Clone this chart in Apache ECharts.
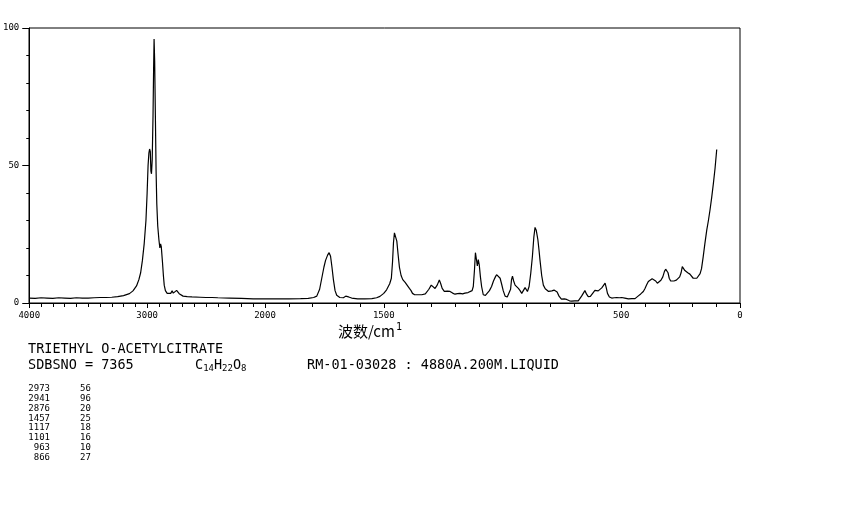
<!DOCTYPE html>
<html>
<head>
<meta charset="utf-8">
<script src="https://cdn.jsdelivr.net/npm/echarts@6/dist/echarts.min.js"></script>
<style>html,body{margin:0;padding:0;background:#fff;}#chart{width:850px;height:510px;}</style>
</head>
<body>
<div id="chart"></div>
<script>
// Wavenumbers (cm-1) and Raman intensities
const wavenumbers = [
4000,3950,3900,3850,3800,3750,3700,3650,3600,3550,3500,3450,3400,3350,3300,3250,3200,3150,3120,3090,
3070,3055,3040,3025,3010,3000,2992,2985,2979,2973,2968,2963,2957,2950,2945,2941,2936,2930,2924,2918,
2910,2900,2892,2886,2880,2876,2870,2862,2855,2845,2830,2815,2800,2788,2778,2765,2750,2740,2728,2715,
2695,2660,2620,2550,2500,2450,2400,2300,2200,2100,2000,1950,1900,1850,1818,1795,1782,1770,1761,1752,
1745,1736,1730,1724,1718,1712,1705,1698,1685,1670,1660,1655,1648,1635,1610,1580,1550,1530,1516,1500,
1488,1475,1468,1463,1459,1455,1450,1445,1440,1434,1427,1420,1410,1403,1392,1385,1379,1370,1355,1340,
1325,1318,1310,1300,1292,1284,1275,1266,1260,1254,1245,1232,1221,1210,1200,1190,1179,1168,1158,1145,
1137,1128,1123,1118,1114,1110,1106,1102,1098,1093,1088,1081,1072,1065,1055,1046,1038,1030,1025,1018,
1010,1004,997,989,980,972,966,962,958,953,947,940,933,926,919,912,905,899,895,888,
881,874,868,863,858,851,846,842,835,828,820,814,806,800,792,783,777,770,762,752,
740,730,718,709,695,681,673,667,660,653,646,639,630,625,618,611,604,597,590,582,
575,568,563,558,550,540,530,519,508,498,485,470,455,442,435,428,418,407,400,393,
386,379,370,362,355,348,340,333,325,318,313,309,303,298,292,285,278,268,260,254,
248,243,238,232,227,220,211,205,197,190,182,175,168,162,155,148,140,133,126,119,
112,105,98
];
const intensities = [
1.8,1.7,1.9,1.8,1.7,1.9,1.8,1.7,1.9,1.8,1.8,1.9,2.0,2.0,2.1,2.3,2.7,3.4,4.4,6.2,
8.5,11,15.5,21.5,30,40,50,54.5,56,55,48,47,52,68,85,96,88,68,48,36,
28,23,20,21.5,20.5,20,15,10,6.5,4.5,3.5,3.0,3.5,4.4,3.6,3.5,4.6,4.8,3.4,3.0,
2.5,2.3,2.2,2.1,2.0,2.0,1.9,1.8,1.7,1.5,1.5,1.5,1.5,1.6,1.7,2.0,2.5,5,9,13,
15.5,17.5,18.3,17,13,8.5,4.5,2.8,2.0,1.9,2.5,2.9,2.2,1.8,1.5,1.5,1.6,1.9,2.4,3.5,
4.8,7,9,15,22,25.5,25,22.5,18,13,10,8.5,7.5,7.0,5.3,4.5,3.5,3.0,3.0,3.0,
3.3,4.0,5.0,6.5,5.8,5.3,6.5,8.4,7.0,5.3,4.2,4.3,4.2,3.6,3.2,3.4,3.5,3.3,3.6,3.8,
3.7,4.5,6,12,18.3,16,13.5,15.8,14,9.5,6,3.0,2.8,3.2,4.5,6,8,9.5,10.3,10.5,
9.0,7.0,4.5,2.5,2.2,2.5,5,8.5,9.8,8,6.5,5.8,5.3,4.5,3.5,4.0,5.6,5.0,4.2,6,
10.8,17,24,27.5,26.5,23,19,15.5,10,6.5,5.2,4.7,4.2,4.0,4.4,4.7,4.5,4.0,2.5,1.4,
1.5,1.3,0.8,0.7,0.8,0.8,1.5,2.5,3.5,4.5,3.2,2.3,2.4,2.6,3.8,4.6,4.2,4.4,5.0,5.5,
6.2,7.2,5.5,3.5,2.2,1.8,1.9,2.0,1.9,2.0,1.8,1.5,1.6,1.6,2.0,2.6,3.3,4.2,5.3,6.6,
7.8,8.4,8.8,8.6,8.0,7.2,7.6,8.3,9.5,11.5,12.3,12.0,11.0,9.0,8.0,7.9,8.0,8.3,8.5,9.5,
11,13.2,12.5,11.8,11.4,11.0,10.5,9.8,9.0,8.8,9.0,9.6,10.7,12.5,16.8,21.5,26.5,30,34,38.5,
43.5,49,55.8
];
// Peak table
const peakWavenumbers = [2973, 2941, 2876, 1457, 1117, 1101, 963, 866];
const peakIntensities = [56, 96, 20, 25, 18, 16, 10, 27];
// Axis tick labels shown
const yTickLabels = [0, 50, 100];
const xLabelsHigh = [4000, 3000, 2000];
const xLabelsLow = [1500, 500, 0];

const compoundName = 'TRIETHYL O-ACETYLCITRATE';
const sdbsLine = 'SDBSNO = 7365';
const conditionLine = 'RM-01-03028 : 4880A.200M.LIQUID';

const highData = [], lowData = [];
wavenumbers.forEach((w, i) => {
  if (w >= 2000) highData.push([w, intensities[i]]);
  if (w <= 2000) lowData.push([w, intensities[i]]);
});

const mono = '"DejaVu Sans Mono", "Liberation Mono", monospace';
const black = '#000';

const chart = echarts.init(document.getElementById('chart'), null, {renderer: 'canvas'});

const graphics = [];
graphics.push({type: 'text', left: 338, top: 322, style: {
  text: '波数/cm{sup|1}', font: '15px "Noto Sans CJK SC"', fill: black,
  rich: {sup: {fontSize: 10, verticalAlign: 'top', padding: [0, 0, 9, 1], fontFamily: mono}}
}});
graphics.push({type: 'text', left: 28, top: 342, style: {text: compoundName, font: '13.5px ' + mono, fill: black}});
graphics.push({type: 'text', left: 28, top: 358, style: {text: sdbsLine, font: '13.5px ' + mono, fill: black}});
graphics.push({type: 'text', left: 195, top: 358, style: {
  text: 'C{s|14}H{s|22}O{s|8}', font: '13.5px ' + mono, fill: black,
  rich: {s: {fontSize: 9, fontFamily: mono, padding: [7, 0, 0, 0]}}
}});
graphics.push({type: 'text', left: 307, top: 358, style: {text: conditionLine, font: '13.5px ' + mono, fill: black}});
peakWavenumbers.forEach((w, i) => {
  const y = 384 + i * 9.9;
  graphics.push({type: 'text', right: 850 - 50, top: y, style: {text: String(w), font: '9px ' + mono, fill: black}});
  graphics.push({type: 'text', left: 80, top: y, style: {text: String(peakIntensities[i]), font: '9px ' + mono, fill: black}});
});

const axisCommon = {
  axisLine: {show: true, lineStyle: {color: black, width: 1}},
  splitLine: {show: false},
  axisLabel: {color: black, fontFamily: mono, fontSize: 9}
};

chart.setOption({
  animation: false,
  backgroundColor: '#fff',
  grid: [
    {left: 29, top: 28, width: 236, height: 275},
    {left: 265, top: 28, width: 475, height: 275},
    {left: 29, top: 28, width: 711, height: 275, show: true, borderColor: black, borderWidth: 1, backgroundColor: 'transparent'}
  ],
  xAxis: [
    Object.assign({}, axisCommon, {
      gridIndex: 0, type: 'value', min: 2000, max: 4000, inverse: true, interval: 1000,
      axisTick: {show: true, length: 5, lineStyle: {color: black}},
      minorTick: {show: true, splitNumber: 10, length: 4, lineStyle: {color: black}},
      axisLabel: {color: black, fontFamily: mono, fontSize: 9, margin: 8, showMinLabel: true, showMaxLabel: true,
        formatter: v => xLabelsHigh.includes(v) ? String(v) : ''}
    }),
    Object.assign({}, axisCommon, {
      gridIndex: 1, type: 'value', min: 0, max: 2000, inverse: true, interval: 500,
      axisTick: {show: true, length: 5, lineStyle: {color: black}},
      minorTick: {show: true, splitNumber: 5, length: 4, lineStyle: {color: black}},
      axisLabel: {color: black, fontFamily: mono, fontSize: 9, margin: 8, showMinLabel: true, showMaxLabel: true,
        formatter: v => xLabelsLow.includes(v) ? String(v) : ''}
    }),
    {gridIndex: 2, type: 'value', min: 0, max: 1, show: false}
  ],
  yAxis: [
    Object.assign({}, axisCommon, {
      gridIndex: 0, type: 'value', min: 0, max: 100, interval: 50,
      axisTick: {show: true, length: 7, lineStyle: {color: black}},
      minorTick: {show: true, splitNumber: 5, length: 3, lineStyle: {color: black}},
      axisLabel: {color: black, fontFamily: mono, fontSize: 9, margin: 10,
        formatter: v => yTickLabels.includes(v) ? String(v) : ''}
    }),
    {gridIndex: 1, type: 'value', min: 0, max: 100, show: false},
    {gridIndex: 2, type: 'value', min: 0, max: 1, show: false}
  ],
  series: [
    {type: 'line', xAxisIndex: 0, yAxisIndex: 0, data: highData, showSymbol: false, symbol: 'none',
      lineStyle: {color: black, width: 1.2}, silent: true},
    {type: 'line', xAxisIndex: 1, yAxisIndex: 1, data: lowData, showSymbol: false, symbol: 'none',
      lineStyle: {color: black, width: 1.2}, silent: true}
  ],
  graphic: graphics
});
</script>
</body>
</html>
